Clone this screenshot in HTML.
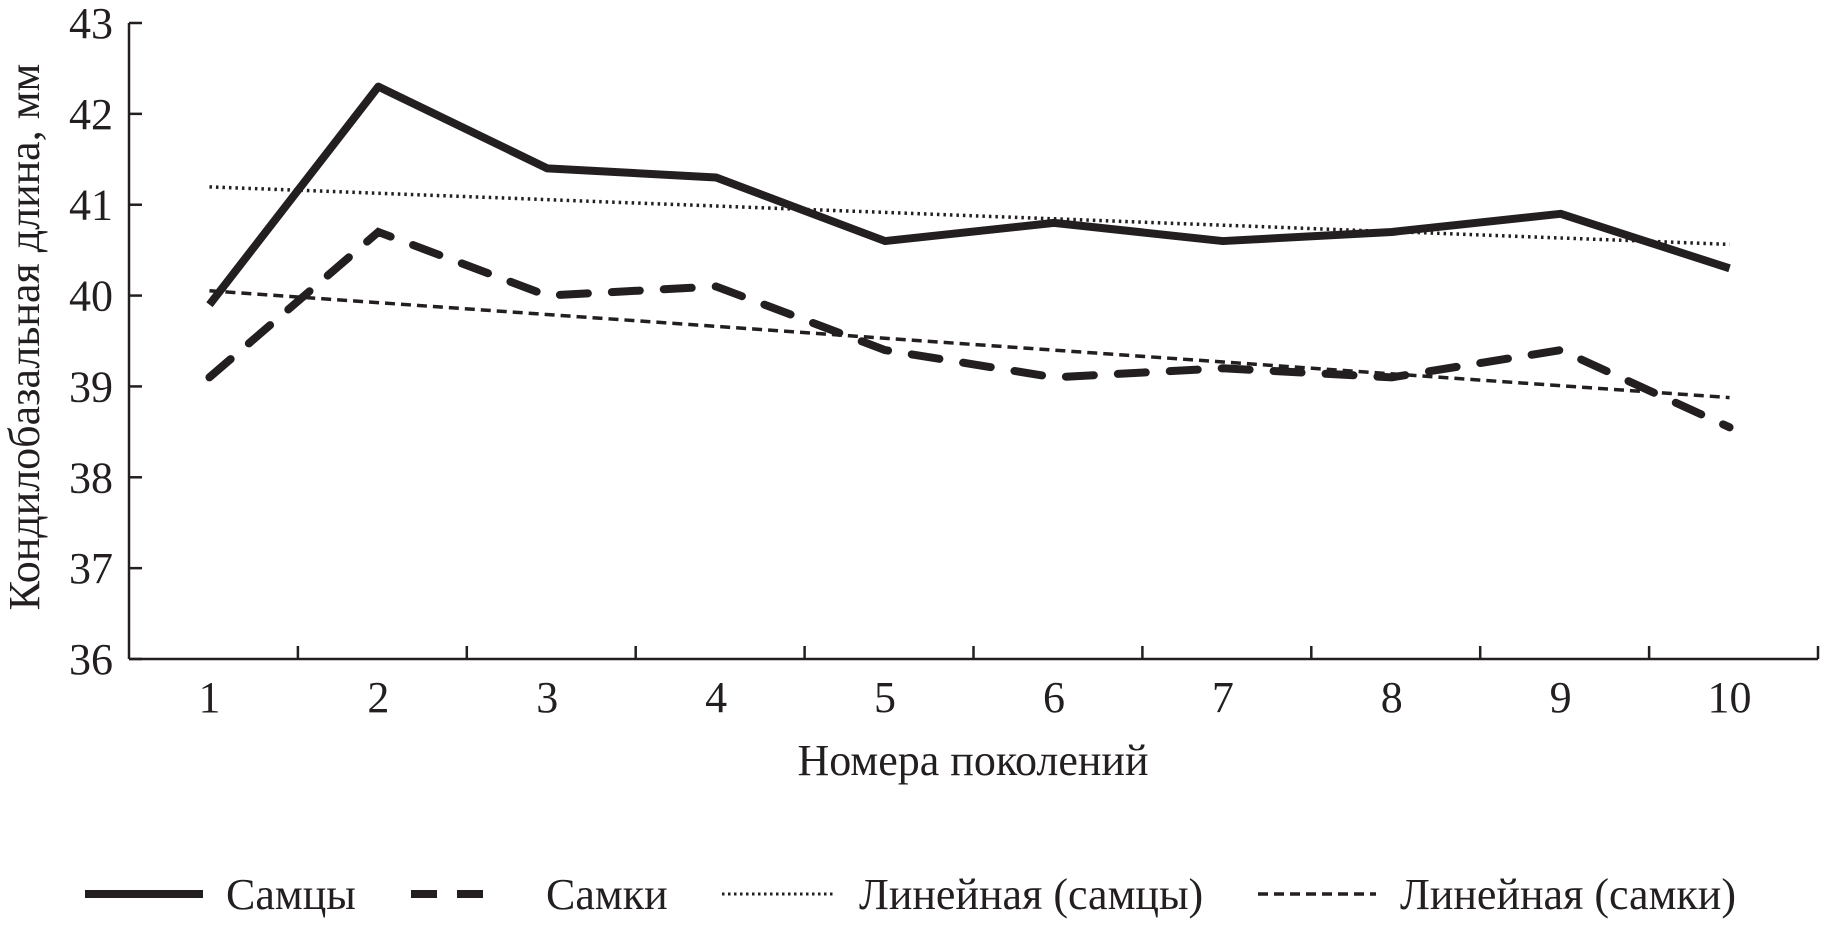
<!DOCTYPE html>
<html><head><meta charset="utf-8">
<style>
html,body{margin:0;padding:0;background:#fff;}
svg{display:block;}
text{font-family:"Liberation Serif","DejaVu Serif",serif;fill:#231f20;}
</style></head>
<body>
<svg id="chart" width="1821" height="926" viewBox="0 0 1821 926"></svg>
<script>
const categories = ["1","2","3","4","5","6","7","8","9","10"];
const males = [39.9, 42.3, 41.4, 41.3, 40.6, 40.8, 40.6, 40.7, 40.9, 40.3];
const females = [39.1, 40.7, 40.0, 40.1, 39.4, 39.1, 39.2, 39.1, 39.4, 38.55];
const yTicks = [36, 37, 38, 39, 40, 41, 42, 43];

const NS = "http://www.w3.org/2000/svg";
const svg = document.getElementById("chart");
const L = 129, R = 1818, T = 23, B = 659, yMin = 36, yMax = 43;
const bw = (R - L) / categories.length;
function xs(i){ return L + bw * (i + 0.5) - 4; }
function ys(v){ return B - (v - yMin) / (yMax - yMin) * (B - T); }
function mk(tag, attrs, parent){
  const e = document.createElementNS(NS, tag);
  for (const k in attrs) e.setAttribute(k, attrs[k]);
  (parent || svg).appendChild(e);
  return e;
}
const C = "#231f20";
const FS = 44;

let e = mk("line", {x1:L, y1:T, x2:L, y2:B, stroke:C, "stroke-width":2.5});


e = mk("line", {x1:L, y1:B, x2:R, y2:B, stroke:C, "stroke-width":2.5});



yTicks.forEach(v => {
  const y = ys(v);
  let t = mk("line", {x1:L, y1:y, x2:L+13, y2:y, stroke:C, "stroke-width":2.5});
  
  
  let tx = mk("text", {x:113, y:y+15, "text-anchor":"end", "font-size":FS});
  tx.textContent = v;
  
  
});
for (let i = 1; i <= categories.length; i++){
  const x = L + bw * i;
  let t = mk("line", {x1:x, y1:B, x2:x, y2:B-13, stroke:C, "stroke-width":2.5});
  
  
}
categories.forEach((c, i) => {
  let tx = mk("text", {x:xs(i), y:712, "text-anchor":"middle", "font-size":FS});
  tx.textContent = c;
  
  
});

e = mk("text", {x:973, y:775, "text-anchor":"middle", "font-size":FS});
e.textContent = "Номера поколений";


e = mk("text", {x:0, y:0, "text-anchor":"middle", "font-size":FS, transform:"translate(39,337) rotate(-90)"});
e.textContent = "Кондилобазальная длина, мм";



function fit(arr){
  const n = arr.length; let sx=0, sy=0, sxy=0, sxx=0;
  arr.forEach((v,i)=>{ sx+=i; sy+=v; sxy+=i*v; sxx+=i*i; });
  const b = (n*sxy - sx*sy)/(n*sxx - sx*sx); const a = (sy - b*sx)/n;
  return [a, a + b*(n-1)];
}
function path(arr){ return arr.map((v,i)=>(i?"L":"M")+xs(i)+","+ys(v)).join(" "); }

const mt = fit(males), ft = fit(females);
e = mk("line", {x1:xs(0), y1:ys(mt[0]), x2:xs(9), y2:ys(mt[1]), stroke:C, "stroke-width":3.5, "stroke-dasharray":"2.5 4"});


e = mk("line", {x1:xs(0), y1:ys(ft[0]), x2:xs(9), y2:ys(ft[1]), stroke:C, "stroke-width":3.5, "stroke-dasharray":"10 6"});


e = mk("path", {d:path(males), fill:"none", stroke:C, "stroke-width":8, "stroke-linejoin":"round"});


e = mk("path", {d:path(females), fill:"none", stroke:C, "stroke-width":8, "stroke-dasharray":"28 24", "stroke-linecap":"round"});



const lg = mk("g", {});


function entry(x1, x2, tx, label, attrs, name){
  const g = mk("g", {}, lg);
  
  
  mk("line", Object.assign({x1:x1, y1:894, x2:x2, y2:894, stroke:C}, attrs), g);
  const t = mk("text", {x:tx, y:909, "font-size":FS}, g);
  t.textContent = label;
}
entry(85, 203, 226, "Самцы", {"stroke-width":8}, "legend-entry-males");
entry(411, 502, 546, "Самки", {"stroke-width":8, "stroke-dasharray":"26 20"}, "legend-entry-females");
entry(722, 836, 859, "Линейная (самцы)", {"stroke-width":3, "stroke-dasharray":"2.5 3.5"}, "legend-entry-males-trend");
entry(1258, 1376, 1400, "Линейная (самки)", {"stroke-width":3.5, "stroke-dasharray":"10 6"}, "legend-entry-females-trend");
</script>
</body></html>
